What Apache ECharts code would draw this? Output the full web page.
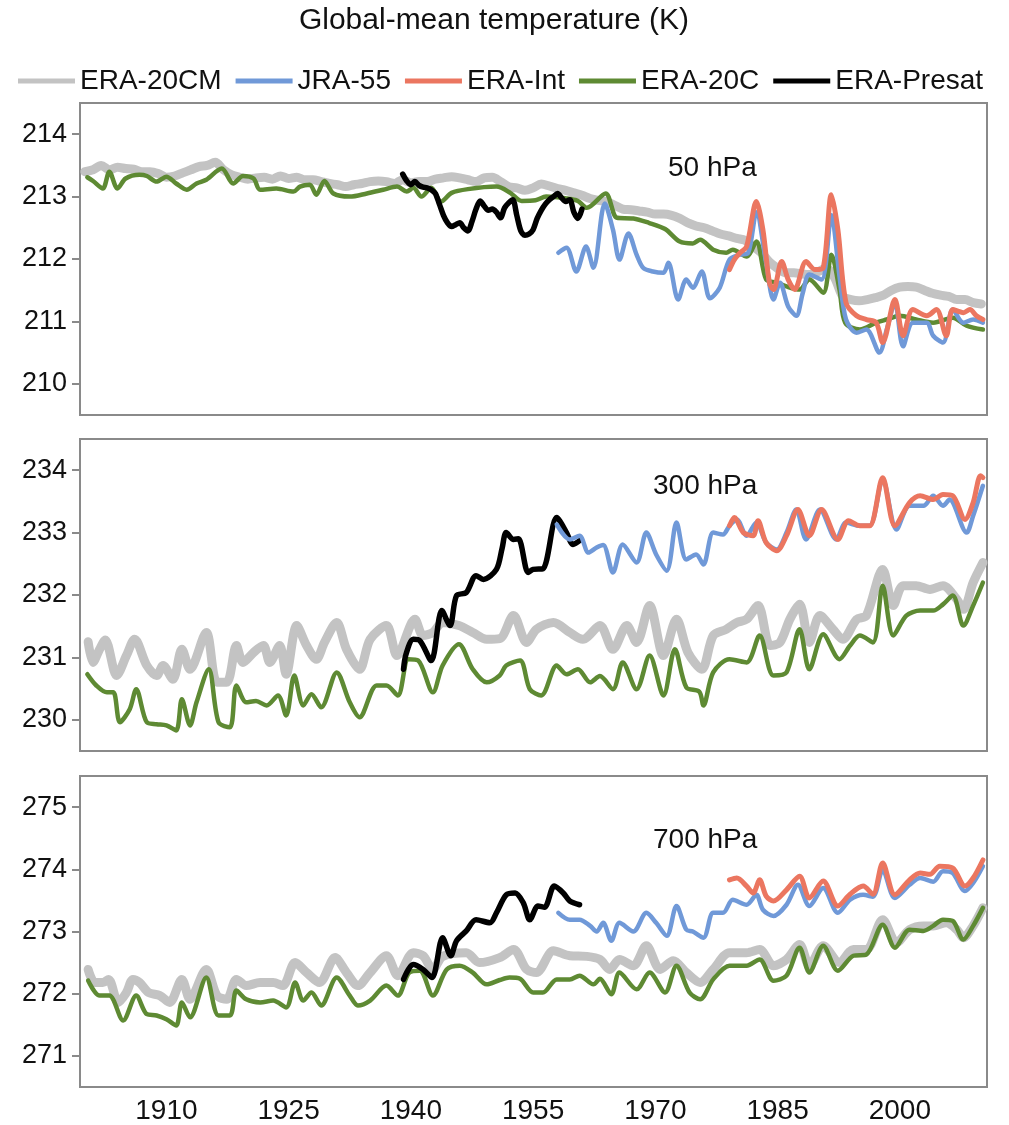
<!DOCTYPE html>
<html>
<head>
<meta charset="utf-8">
<title>Global-mean temperature</title>
<script src="https://cdn.jsdelivr.net/npm/echarts@6/dist/echarts.min.js"></script>
<style>
  html, body { margin: 0; padding: 0; background: #fff; }
  #main { width: 1009px; height: 1125px; }
</style>
</head>
<body>
<div id="main"></div>
<script type="text/javascript">
// series names and tick labels
var names = ['ERA-20CM', 'JRA-55', 'ERA-Int', 'ERA-20C', 'ERA-Presat'];
var levels = ['50 hPa', '300 hPa', '700 hPa'];
var yearTicks = [1910, 1925, 1940, 1955, 1970, 1985, 2000];
var ticks50 = [210, 211, 212, 213, 214];
var ticks300 = [230, 231, 232, 233, 234];
var ticks700 = [271, 272, 273, 274, 275];

// ---- 50 hPa ----
var p50_20cm = [[1900,213.40],[1901,213.43],[1902,213.50],[1903,213.43],[1904,213.47],[1905,213.45],[1906,213.44],[1907,213.40],[1908,213.40],[1909,213.37],[1910,213.31],[1911,213.33],[1912,213.38],[1913,213.43],[1914,213.48],[1915,213.50],[1916,213.55],[1917,213.43],[1918,213.35],[1919,213.31],[1920,213.28],[1921,213.30],[1922,213.31],[1923,213.28],[1924,213.33],[1925,213.29],[1926,213.31],[1927,213.27],[1928,213.27],[1929,213.24],[1930,213.21],[1931,213.19],[1932,213.16],[1933,213.19],[1934,213.21],[1935,213.24],[1936,213.25],[1937,213.24],[1938,213.21],[1939,213.27],[1940,213.22],[1941,213.24],[1942,213.24],[1943,213.28],[1944,213.30],[1945,213.32],[1946,213.30],[1947,213.27],[1948,213.24],[1949,213.30],[1950,213.31],[1951,213.24],[1952,213.16],[1953,213.14],[1954,213.10],[1955,213.14],[1956,213.20],[1957,213.17],[1958,213.13],[1959,213.10],[1960,213.06],[1961,213.02],[1962,212.97],[1963,212.94],[1964,212.92],[1965,212.86],[1966,212.80],[1967,212.79],[1968,212.77],[1969,212.75],[1970,212.72],[1971,212.72],[1972,212.70],[1973,212.65],[1974,212.58],[1975,212.53],[1976,212.50],[1977,212.45],[1978,212.40],[1979,212.37],[1980,212.33],[1981,212.30],[1982,212.20],[1983,212.10],[1984,211.95],[1985,211.85],[1986,211.78],[1987,211.78],[1988,211.76],[1989,211.75],[1990,211.80],[1991,211.85],[1992,211.70],[1993,211.40],[1994,211.35],[1995,211.33],[1996,211.35],[1997,211.38],[1998,211.42],[1999,211.50],[2000,211.55],[2001,211.56],[2002,211.55],[2003,211.50],[2004,211.45],[2005,211.42],[2006,211.40],[2007,211.35],[2008,211.35],[2009,211.30],[2010,211.28]];
var p50_20c = [[1900.3,213.31],[1901,213.25],[1902.2,213.13],[1903,213.40],[1904,213.13],[1905,213.29],[1906.7,213.35],[1907.6,213.33],[1908.8,213.24],[1910,213.32],[1911.2,213.21],[1912.5,213.11],[1913.7,213.21],[1914.9,213.27],[1916.8,213.45],[1918.2,213.21],[1919.4,213.33],[1920.7,213.29],[1921.5,213.11],[1923.5,213.13],[1925.6,213.08],[1926.4,213.16],[1927.6,213.19],[1928.4,213.03],[1929.4,213.25],[1930.5,213.05],[1932.5,213.00],[1934.6,213.05],[1936.6,213.11],[1938.3,213.16],[1939.5,213.08],[1940.3,213.14],[1941.3,213.00],[1942.5,213.14],[1943.7,212.92],[1945,213.06],[1947,213.12],[1950.5,213.16],[1952.2,213.06],[1953.6,212.93],[1955.3,212.94],[1956.6,213.00],[1959.1,212.97],[1960.5,212.93],[1961.6,212.82],[1963.9,213.05],[1965.3,212.66],[1967.3,212.65],[1969.2,212.58],[1971.2,212.48],[1973,212.28],[1974.6,212.25],[1975.5,212.31],[1977.1,212.15],[1978.7,212.10],[1979.5,212.15],[1981.2,212.04],[1982.4,212.28],[1983.6,211.67],[1984.9,211.62],[1986.1,211.56],[1987.7,211.51],[1988.9,211.67],[1990.6,211.46],[1991.6,212.07],[1992.6,211.51],[1993.3,210.98],[1995.1,210.87],[1997.1,210.98],[1998.4,211.03],[2000,211.09],[2002,211.03],[2004.1,210.98],[2006.5,211.06],[2008.2,210.93],[2010.2,210.87]];
var p50_presat = [[1939.0,213.36],[1939.5,213.25],[1940.0,213.19],[1940.5,213.24],[1941.0,213.18],[1941.5,213.15],[1942.0,213.14],[1942.5,213.11],[1943.0,213.05],[1943.5,212.88],[1944.0,212.70],[1944.5,212.58],[1945.0,212.52],[1945.5,212.55],[1946.0,212.58],[1946.5,212.50],[1947.0,212.45],[1947.5,212.60],[1948.0,212.80],[1948.5,212.93],[1949.0,212.85],[1949.5,212.78],[1950.0,212.80],[1950.5,212.75],[1951.0,212.66],[1951.5,212.82],[1952.0,212.90],[1952.5,212.95],[1953.0,212.70],[1953.5,212.45],[1954.0,212.38],[1954.5,212.40],[1955.0,212.47],[1955.5,212.65],[1956.0,212.78],[1956.5,212.88],[1957.0,212.95],[1957.5,213.00],[1958.0,213.05],[1958.5,212.98],[1959.0,212.92],[1959.5,212.95],[1960.0,212.75],[1960.5,212.65],[1961.0,212.80]];
var p50_jra = [[1958.1,212.10],[1959.1,212.18],[1960.3,211.80],[1961.5,212.20],[1962.4,211.86],[1963.8,212.89],[1964.8,212.47],[1965.6,211.99],[1966.7,212.41],[1967.7,212.07],[1968.5,211.86],[1969.7,211.80],[1971,211.78],[1971.6,211.94],[1972.8,211.35],[1973.8,211.67],[1974.6,211.54],[1975.7,211.80],[1976.7,211.37],[1977.9,211.54],[1979.1,211.99],[1980.4,212.07],[1981.4,212.10],[1982.4,212.75],[1983.6,211.94],[1984.5,211.35],[1985.3,211.62],[1986.3,211.24],[1987.3,211.09],[1988.1,211.46],[1988.9,211.75],[1990.4,211.67],[1991.6,212.70],[1992.6,211.72],[1993.4,211.03],[1994.7,210.82],[1995.9,210.87],[1997.5,210.50],[1998.4,210.87],[1999.4,211.30],[2000.4,210.60],[2001.6,210.98],[2003.3,210.98],[2004.1,210.77],[2005.3,210.66],[2006.5,211.19],[2007.8,210.98],[2009,211.03],[2010.2,210.98]];
var p50_int = [[1979.1,211.83],[1979.7,211.99],[1980.4,212.10],[1981.2,212.20],[1982.4,212.92],[1983.2,212.47],[1984,211.62],[1984.5,211.51],[1985.5,211.96],[1986.3,211.67],[1987.1,211.51],[1988.5,211.96],[1989.6,211.83],[1990.6,211.86],[1991.6,213.03],[1992.4,212.47],[1993.4,211.30],[1994.7,211.09],[1995.9,211.03],[1997.1,210.98],[1997.9,210.66],[1999.4,211.35],[2000.4,210.77],[2001.6,211.19],[2003.3,211.09],[2004.5,211.19],[2005.7,210.77],[2006.5,211.19],[2007.8,211.14],[2008.6,211.19],[2009.4,211.09],[2010.2,211.03]];

// ---- 300 hPa ----
var p300_20cm = [[1900.4,231.25],[1901,230.92],[1901.8,231.13],[1902.5,231.28],[1903.9,230.71],[1905.1,231.03],[1906.1,231.29],[1907.6,230.87],[1908.8,230.71],[1909.6,230.87],[1910.8,230.65],[1911.9,231.13],[1912.9,230.81],[1914.9,231.40],[1916.2,230.60],[1917.4,230.60],[1918.6,231.19],[1919.4,230.92],[1920.7,231.08],[1921.9,231.19],[1922.7,230.92],[1923.9,231.19],[1924.7,230.73],[1926,231.51],[1927.2,231.19],[1928.4,230.97],[1929.4,231.24],[1930.9,231.56],[1932.1,231.13],[1933.7,230.81],[1935,231.29],[1937,231.51],[1938.3,231.03],[1940.5,231.61],[1941.5,231.35],[1942.7,231.40],[1943.9,231.56],[1945.9,231.51],[1947.6,231.40],[1949.3,231.29],[1950.9,231.30],[1952.6,231.67],[1954.2,231.24],[1955.4,231.45],[1957.5,231.56],[1959.5,231.40],[1961.1,231.29],[1963.2,231.51],[1964.8,231.13],[1966.5,231.51],[1967.7,231.24],[1969.3,231.83],[1971,231.03],[1972.6,231.61],[1974,231.08],[1975.7,230.81],[1977.1,231.35],[1978.7,231.45],[1980,231.56],[1981.2,231.61],[1982.6,231.83],[1984.1,231.19],[1985.3,231.24],[1986.5,231.61],[1987.7,231.85],[1988.9,231.24],[1990.2,231.67],[1991.8,231.45],[1993,231.29],[1994.7,231.61],[1995.9,231.67],[1997.9,232.41],[1999.2,231.83],[2000.4,232.15],[2002,232.15],[2003.7,232.09],[2005.3,232.15],[2007,231.93],[2007.8,231.77],[2009,232.20],[2010.2,232.52]];
var p300_20c = [[1900.3,230.73],[1901.4,230.55],[1902.7,230.44],[1903.5,230.44],[1904.3,229.96],[1905.5,230.17],[1906.3,230.49],[1907.6,229.96],[1908.8,229.93],[1910,229.91],[1911.2,229.83],[1911.9,230.33],[1912.9,229.91],[1913.7,230.28],[1915.2,230.81],[1916.4,229.96],[1917.8,229.88],[1918.6,230.55],[1919.8,230.28],[1921,230.30],[1922.3,230.23],[1923.7,230.39],[1924.7,230.07],[1925.7,230.71],[1926.8,230.23],[1927.8,230.41],[1929,230.20],[1930.9,230.76],[1932.5,230.28],[1933.7,230.04],[1935.8,230.55],[1937,230.55],[1938.4,230.39],[1939.7,230.97],[1940.9,230.95],[1942.7,230.44],[1943.9,230.87],[1945.9,231.21],[1947.6,230.81],[1949.3,230.60],[1950.9,230.71],[1951.7,230.87],[1953.4,230.95],[1954.6,230.49],[1956,230.39],[1957.9,230.87],[1959.1,230.73],[1960.5,230.81],[1962,230.60],[1963.2,230.70],[1964.8,230.49],[1966,230.92],[1967.7,230.49],[1969.3,231.03],[1971,230.39],[1972.4,231.13],[1973.8,230.52],[1975.4,230.45],[1975.9,230.23],[1977.1,230.76],[1979.1,230.97],[1981.2,230.92],[1982.8,231.35],[1984.5,230.71],[1986.1,230.76],[1987.7,231.45],[1988.9,230.81],[1990.6,231.37],[1992.6,230.97],[1993.9,231.19],[1995.1,231.35],[1996.7,231.24],[1997.9,232.15],[1999.2,231.35],[2000.8,231.67],[2002.5,231.75],[2004.1,231.75],[2005.3,231.85],[2006.5,231.99],[2007.8,231.51],[2009,231.83],[2010.2,232.20]];
var p300_presat = [[1939.1,230.81],[1939.4,231.05],[1940.3,231.29],[1941.1,231.27],[1942.5,230.95],[1943.8,231.75],[1944.8,231.51],[1945.6,231.99],[1946.8,232.04],[1948,232.31],[1948.9,232.25],[1950.5,232.41],[1951.2,232.75],[1951.7,233.00],[1952.6,232.89],[1953.2,232.90],[1954.4,232.36],[1955,232.41],[1956.2,232.42],[1957.9,233.24],[1959.1,233.00],[1959.9,232.81],[1960.9,232.89]];
var p300_jra = [[1957.9,233.13],[1959.5,232.89],[1960.7,232.95],[1961.8,232.68],[1962.8,232.76],[1963.6,232.80],[1964.8,232.36],[1966,232.81],[1967.7,232.52],[1968.9,233.00],[1970.1,232.65],[1971.4,232.39],[1972.6,233.16],[1973.8,232.57],[1975,232.65],[1975.9,232.49],[1977.1,233.00],[1978.3,232.97],[1979.1,233.11],[1980,233.21],[1981.2,232.95],[1982.4,233.16],[1983.6,232.84],[1984.9,232.73],[1986.1,233.00],[1987.3,233.37],[1988.5,232.89],[1990.2,233.37],[1992.2,232.89],[1993.4,233.16],[1995.1,233.11],[1996.3,233.11],[1997.9,233.85],[1999.6,233.05],[2001.2,233.43],[2002.9,233.43],[2004.1,233.59],[2005.3,233.43],[2006.1,233.53],[2008.2,233.00],[2009,233.27],[2010.2,233.75]];
var p300_int = [[1979.1,233.11],[1979.7,233.24],[1980.8,233.00],[1982,232.95],[1982.6,233.19],[1983.6,232.84],[1984.9,232.71],[1986.1,232.95],[1987.5,233.37],[1988.9,232.95],[1990.4,233.37],[1992.4,232.89],[1993.7,233.19],[1995.1,233.11],[1996.3,233.11],[1997.9,233.88],[1999.4,233.11],[2001.2,233.48],[2002.5,233.59],[2004.1,233.53],[2005.3,233.61],[2006.5,233.59],[2008,233.21],[2009,233.48],[2009.9,233.91],[2010.2,233.88]];

// ---- 700 hPa ----
var p700_20cm = [[1900.4,272.39],[1901.2,272.18],[1902.2,272.18],[1902.9,272.23],[1904.1,271.86],[1905.1,272.02],[1905.9,272.23],[1906.7,272.18],[1907.8,272.02],[1909.2,271.97],[1910.4,271.86],[1911.9,272.23],[1912.9,271.91],[1914.9,272.39],[1916.2,271.97],[1917.4,271.91],[1918.6,272.23],[1919.8,272.13],[1921.5,272.18],[1923.1,272.18],[1924.3,272.13],[1925.8,272.50],[1927.2,272.34],[1928.8,272.18],[1930.7,272.58],[1932.1,272.34],[1933.5,272.13],[1935,272.34],[1937,272.61],[1938.4,272.29],[1940.3,272.66],[1941.5,272.61],[1942.7,272.39],[1943.9,272.60],[1946.8,272.66],[1948.4,272.50],[1950.9,272.58],[1952.6,272.71],[1954.2,272.39],[1955.4,272.34],[1957.5,272.69],[1959.5,272.61],[1961.6,272.60],[1963.2,272.55],[1964.4,272.39],[1965.6,272.55],[1967.3,272.45],[1968.9,272.77],[1970.6,272.39],[1972.2,272.53],[1973.8,272.34],[1975.5,272.18],[1977.1,272.39],[1979.1,272.66],[1981.2,272.66],[1982.8,272.71],[1984.5,272.45],[1986.1,272.55],[1987.7,272.79],[1988.9,272.45],[1990.6,272.77],[1992.6,272.50],[1994.3,272.71],[1995.9,272.71],[1997.9,273.19],[1999.6,272.82],[2001.2,273.03],[2002.9,273.09],[2004.1,273.09],[2005.7,273.14],[2007,273.03],[2007.8,272.90],[2009,273.09],[2010.2,273.38]];
var p700_20c = [[1900.4,272.21],[1901.8,271.97],[1903,271.97],[1904.7,271.57],[1906.3,271.97],[1907.6,271.67],[1908.8,271.65],[1910,271.59],[1911.2,271.49],[1911.9,271.86],[1912.9,271.62],[1914.9,272.26],[1916.4,271.65],[1917.8,271.65],[1918.6,272.05],[1919.8,271.91],[1921.5,271.86],[1923.1,271.89],[1924.7,271.78],[1925.8,272.18],[1926.8,271.89],[1927.8,272.02],[1929,271.81],[1930.9,272.26],[1932.5,271.97],[1933.5,271.81],[1935,271.89],[1937,272.13],[1938.4,271.97],[1939.8,272.34],[1941.1,272.37],[1942.7,271.97],[1944.4,272.39],[1946,272.45],[1947.6,272.34],[1949.3,272.15],[1950.9,272.22],[1952.1,272.26],[1953.4,272.24],[1955,272.02],[1956.2,272.02],[1957.9,272.23],[1959.5,272.23],[1960.7,272.29],[1962.4,272.15],[1963.2,272.24],[1964.6,271.99],[1965.6,272.34],[1967.7,272.07],[1969.3,272.34],[1971.2,272.02],[1972.6,272.45],[1974.2,272.02],[1975.5,271.91],[1977.1,272.23],[1979.1,272.45],[1981.2,272.45],[1982.8,272.55],[1984.5,272.21],[1986.1,272.29],[1987.7,272.74],[1988.9,272.34],[1990.6,272.77],[1992.4,272.37],[1994.3,272.61],[1995.9,272.63],[1997.9,273.11],[1999.4,272.74],[2001.2,273.03],[2002.9,273.01],[2004.1,273.09],[2005.3,273.19],[2006.5,273.17],[2007.8,272.87],[2009,273.09],[2010.2,273.38]];
var p700_presat = [[1939.1,272.23],[1940.3,272.47],[1941.5,272.39],[1942.6,272.26],[1943.9,272.90],[1944.9,272.61],[1945.6,272.85],[1946.8,273.01],[1948,273.19],[1949.7,273.14],[1950.5,273.30],[1951.7,273.59],[1952.8,273.62],[1953.8,273.46],[1954.6,273.19],[1955.6,273.41],[1956.4,273.39],[1957.6,273.73],[1958.7,273.62],[1959.5,273.49],[1960.7,273.43]];
var p700_jra = [[1958.1,273.30],[1959.5,273.19],[1960.7,273.19],[1962,273.09],[1962.8,273.00],[1963.6,273.14],[1964.6,272.85],[1965.6,273.14],[1967.3,273.00],[1968.9,273.30],[1970.1,273.14],[1971.4,272.93],[1972.6,273.41],[1973.8,273.03],[1974.6,273.00],[1975.9,272.90],[1977.1,273.30],[1978.3,273.30],[1979.5,273.51],[1981.2,273.43],[1982.4,273.59],[1983.2,273.35],[1984.5,273.25],[1986.1,273.43],[1987.5,273.75],[1988.9,273.41],[1990.6,273.70],[1992.4,273.30],[1993.9,273.51],[1995.5,273.59],[1996.7,273.56],[1997.9,273.99],[1999.4,273.54],[2001.2,273.75],[2002.5,273.86],[2004.1,273.80],[2005.3,273.97],[2006.5,273.94],[2008,273.65],[2009,273.78],[2010.2,274.05]];
var p700_int = [[1979.1,273.83],[1980,273.86],[1981.2,273.73],[1982,273.62],[1982.8,273.83],[1983.6,273.57],[1984.5,273.49],[1986.1,273.67],[1987.7,273.89],[1988.9,273.54],[1990.6,273.81],[1992.4,273.41],[1993.9,273.60],[1995.5,273.73],[1996.7,273.60],[1997.9,274.10],[1999.4,273.59],[2001.2,273.83],[2002.5,273.94],[2003.7,273.92],[2004.9,274.05],[2006.5,274.02],[2008,273.73],[2009,273.86],[2010.2,274.15]];

var myChart = echarts.init(document.getElementById('main'));

var FONT = '"Liberation Sans", Arial, sans-serif';
var colors = {'ERA-20CM': '#c3c3c3', 'JRA-55': '#7099d8', 'ERA-Int': '#eb7660', 'ERA-20C': '#5e8a33', 'ERA-Presat': '#000000'};
var widths = {'ERA-20CM': 9, 'JRA-55': 4.5, 'ERA-Int': 5, 'ERA-20C': 4.5, 'ERA-Presat': 5.5};

// one entry per panel; drawing order: grey, green, black, blue, red
var panels = [
    {top: 103, min: 209.5, max: 214.5, ticks: ticks50, lines: [['ERA-20CM', p50_20cm], ['ERA-20C', p50_20c], ['ERA-Presat', p50_presat], ['JRA-55', p50_jra], ['ERA-Int', p50_int]]},
    {top: 439, min: 229.5, max: 234.5, ticks: ticks300, lines: [['ERA-20CM', p300_20cm], ['ERA-20C', p300_20c], ['ERA-Presat', p300_presat], ['JRA-55', p300_jra], ['ERA-Int', p300_int]]},
    {top: 776, min: 270.5, max: 275.5, ticks: ticks700, lines: [['ERA-20CM', p700_20cm], ['ERA-20C', p700_20c], ['ERA-Presat', p700_presat], ['JRA-55', p700_jra], ['ERA-Int', p700_int]]}
];
var labelPos = [[668, 168], [653, 486], [653, 840]];

var grids = [], xAxes = [], yAxes = [], series = [], graphics = [];

graphics.push({
    type: 'text', x: 494, y: 21,
    style: {text: 'Global-mean temperature (K)', fontSize: 30, fontFamily: FONT, fill: '#111', textAlign: 'center', textVerticalAlign: 'middle'}
});

panels.forEach(function (p, i) {
    grids.push({left: 80, right: 22, top: p.top, height: 312, show: true, borderColor: '#8a8a8a', borderWidth: 2, backgroundColor: '#fff'});
    xAxes.push({
        type: 'value', gridIndex: i, min: 1899.4, max: 2010.7,
        axisLine: {show: false}, axisTick: {show: false}, splitLine: {show: false},
        axisLabel: {
            show: i === 2, customValues: yearTicks, fontSize: 28, fontFamily: FONT, color: '#111', margin: 10,
            formatter: function (v) { return String(v); }
        }
    });
    yAxes.push({
        type: 'value', gridIndex: i, min: p.min, max: p.max,
        axisLine: {show: true, lineStyle: {color: '#8a8a8a', width: 2}},
        axisTick: {show: true, customValues: p.ticks, length: 8, lineStyle: {color: '#8a8a8a', width: 2}},
        splitLine: {show: false},
        axisLabel: {customValues: p.ticks, fontSize: 27, fontFamily: FONT, color: '#111', margin: 13}
    });
    p.lines.forEach(function (l) {
        series.push({
            name: l[0], type: 'line', xAxisIndex: i, yAxisIndex: i,
            data: l[1], showSymbol: false, smooth: 0.3, silent: true,
            itemStyle: {color: colors[l[0]]},
            lineStyle: {color: colors[l[0]], width: widths[l[0]], cap: 'round', join: 'round'}
        });
    });
    graphics.push({
        type: 'text', x: labelPos[i][0], y: labelPos[i][1], z: 100,
        style: {text: levels[i], fontSize: 28, fontFamily: FONT, fill: '#111', textAlign: 'left', textVerticalAlign: 'middle'}
    });
});

var option = {
    animation: false,
    backgroundColor: '#fff',
    legend: {
        data: names.map(function (n) { return {name: n, icon: 'rect', itemStyle: {color: colors[n]}}; }),
        left: 13, top: 62,
        itemWidth: 57, itemHeight: 5, itemGap: 14,
        textStyle: {fontSize: 28, fontFamily: FONT, color: '#111'}
    },
    grid: grids,
    xAxis: xAxes,
    yAxis: yAxes,
    series: series,
    graphic: graphics
};

myChart.setOption(option);
</script>
</body>
</html>
